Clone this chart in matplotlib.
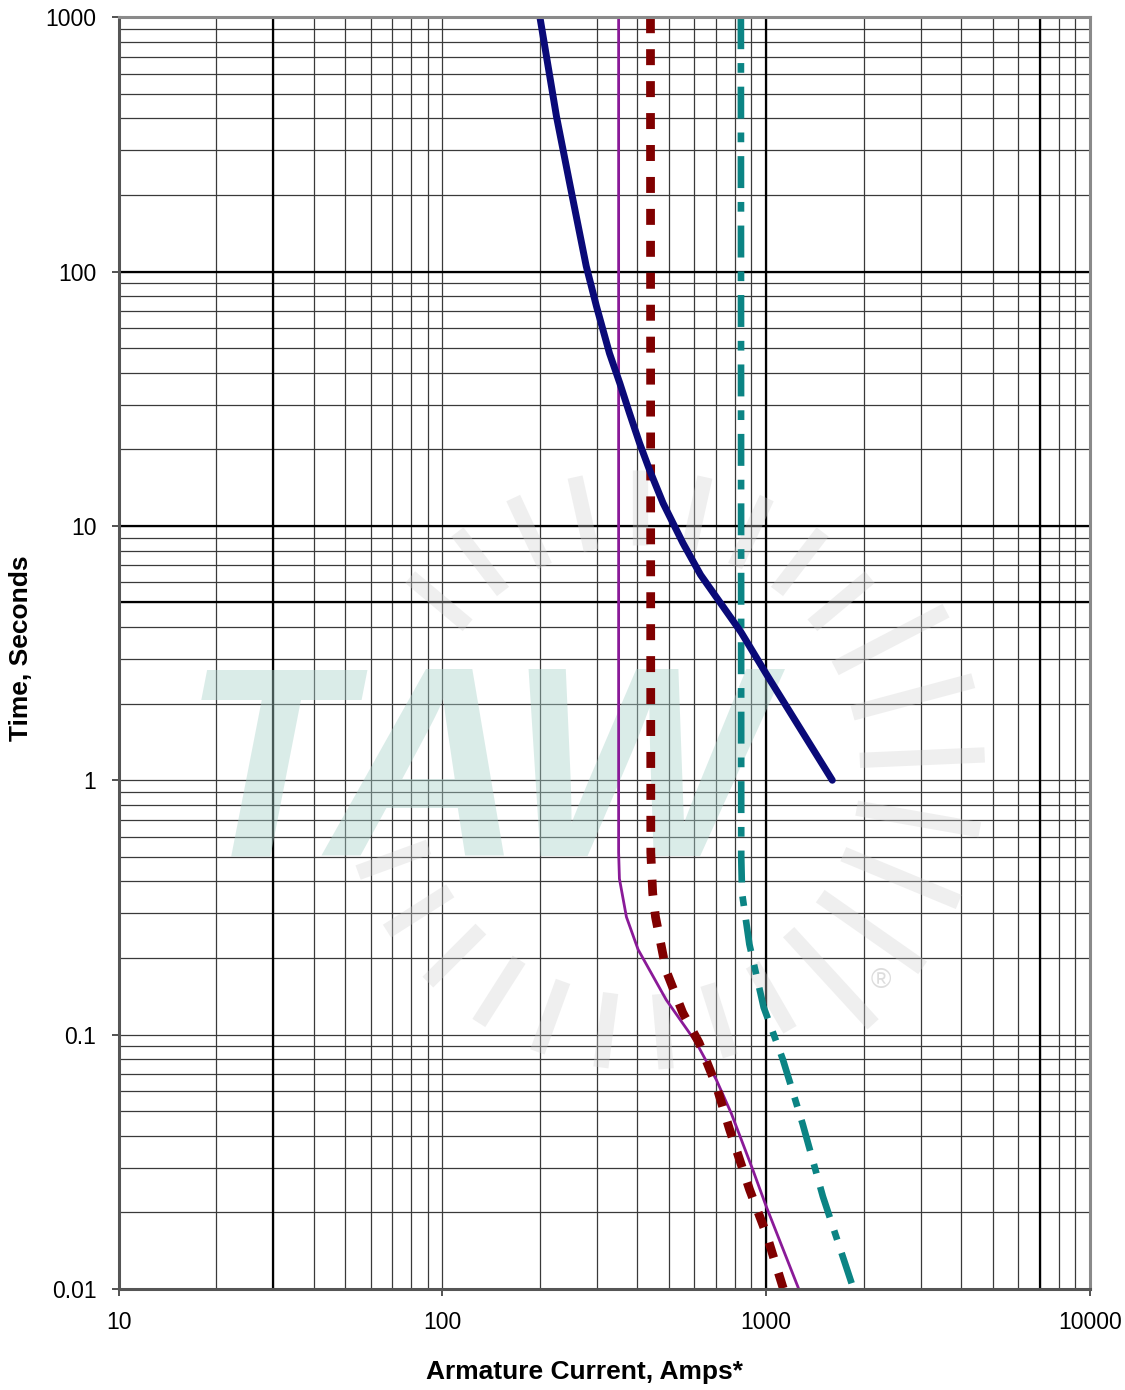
import matplotlib
matplotlib.use("Agg")
import matplotlib.pyplot as plt
import numpy as np

plt.rcParams['font.family'] = ['Liberation Sans', 'DejaVu Sans']
plt.rcParams['lines.scale_dashes'] = False

# ---- data ----
navy_x = [200, 225, 247, 278, 299, 328, 353, 378, 406, 436, 480, 553, 627, 835, 1000, 1600]
navy_y = [1000, 407, 223, 105, 73, 47.7, 36.4, 27.8, 21.2, 16.6, 12.3, 8.56, 6.42, 3.83, 2.62, 1.0]

purple_x = [350, 350, 352, 370, 402, 491, 608, 701, 780, 909, 1000, 1260]
purple_y = [1000, 0.52, 0.41, 0.29, 0.216, 0.137, 0.093, 0.0665, 0.049, 0.0294, 0.0211, 0.01]

red_x = [439, 440, 446, 455, 491, 552, 620, 701, 770, 888, 1000, 1130]
red_y = [1000, 0.52, 0.36, 0.29, 0.178, 0.122, 0.093, 0.063, 0.0425, 0.0246, 0.0165, 0.01]

teal_x = [835, 837, 842, 887, 982, 1125, 1296, 1496, 1860]
teal_y = [1000, 0.50, 0.36, 0.2265, 0.128, 0.0800, 0.0445, 0.0231, 0.01]

x_ticks = [10, 100, 1000, 10000]
x_ticklabels = ['10', '100', '1000', '10000']
y_ticks = [0.01, 0.1, 1, 10, 100, 1000]
y_ticklabels = ['0.01', '0.1', '1', '10', '100', '1000']
x_heavy = [30, 1000, 7000]
y_heavy = [5, 10, 100]

# ---- figure ----
W, H = 1125, 1390
fig = plt.figure(figsize=(W / 100, H / 100), dpi=100)
ax = fig.add_axes([0.1055, 0.0727, 0.8634, 0.9149])
ax.set_xscale('log')
ax.set_yscale('log')
ax.set_xlim(10, 10000)
ax.set_ylim(0.01, 1000)

# grid lines (all 1..9 multiples per decade)
for d in [10, 100, 1000]:
    for m in range(1, 10):
        if d * m > 10:
            ax.axvline(d * m, color='#3a3a3a', lw=0.9, zorder=1)
for d in [0.01, 0.1, 1, 10, 100]:
    for m in range(1, 10):
        if d * m > 0.01:
            ax.axhline(d * m, color='#3a3a3a', lw=0.9, zorder=1)
for v in x_heavy:
    ax.axvline(v, color='black', lw=1.6, zorder=1.1)
for v in y_heavy:
    ax.axhline(v, color='black', lw=1.6, zorder=1.1)

# watermark (sunburst + lettering), drawn faintly over the grid
ax_w = 0.8634 * W
ax_h = 0.9149 * H
cx, cy = 0.5367, 0.4081
for ang in np.arange(-160, 145, 12.5):
    a = np.deg2rad(ang)
    r0, r1 = (220, 345) if -60 < ang < 40 else (225, 300)
    xs = [cx + r0 * np.cos(a) / ax_w, cx + r1 * np.cos(a) / ax_w]
    ys = [cy + r0 * np.sin(a) / ax_h, cy + r1 * np.sin(a) / ax_h]
    ax.plot(xs, ys, transform=ax.transAxes, color='#d0d0d0', lw=11,
            alpha=0.33, solid_capstyle='butt', zorder=2)
ax.text(0.366, 0.396, 'TAW', transform=ax.transAxes, fontsize=196,
        fontweight='bold', fontstyle='italic', color='#a8d2ca', alpha=0.42,
        ha='center', va='center', zorder=2)
ax.text(0.785, 0.242, '®', transform=ax.transAxes, fontsize=20,
        color='#dddddd', ha='center', va='center', zorder=2)

# curves
ax.plot(purple_x, purple_y, color='#8a1a98', lw=2.0, zorder=3)
ax.plot(red_x, red_y, color='#800000', lw=6.3, dashes=(11.5, 11.5),
        dash_capstyle='butt', zorder=4)
ax.plot(teal_x, teal_y, color='#0b8484', lw=4.8, dashes=(23, 10, 7, 10),
        dash_capstyle='butt', zorder=4)
ax.plot(navy_x, navy_y, color='#0a0a78', lw=5.0, solid_capstyle='round',
        solid_joinstyle='round', zorder=5)

# axes styling
for s in ax.spines.values():
    s.set_color('#8a8a8a')
    s.set_linewidth(2.2)
    s.set_zorder(6)
ax.spines['left'].set_color('#555555')
ax.spines['bottom'].set_color('#555555')

ax.set_xticks(x_ticks)
ax.set_xticklabels(x_ticklabels)
ax.set_yticks(y_ticks)
ax.set_yticklabels(y_ticklabels)
ax.minorticks_off()
ax.tick_params(axis='both', which='major', direction='out', length=5,
               width=1.2, color='#333333', labelsize=16.5)
ax.tick_params(axis='y', pad=11)
ax.tick_params(axis='x', pad=11)

ax.set_xlabel('Armature Current, Amps*', fontsize=19, fontweight='bold')
ax.set_ylabel('Time, Seconds', fontsize=19, fontweight='bold')
ax.xaxis.label.set_va('center')
ax.xaxis.set_label_coords(0.480, -0.0653)
ax.yaxis.label.set_va('center')
ax.yaxis.set_label_coords(-0.1006, 0.504)

fig.savefig('out.png', dpi=100)
